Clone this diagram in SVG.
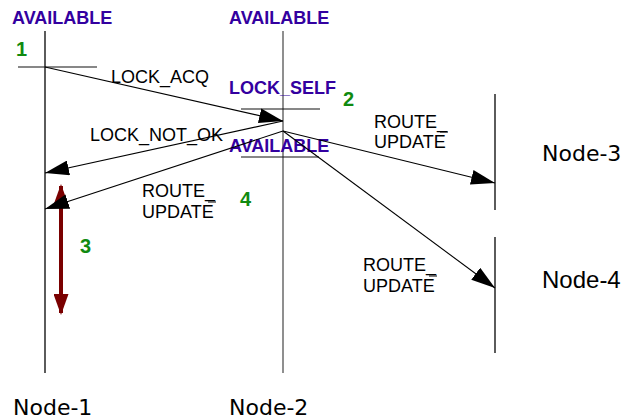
<svg xmlns="http://www.w3.org/2000/svg" width="629" height="419" viewBox="0 0 629 419">
<style>
.life{stroke:#333;stroke-width:1.6;fill:none}
.tick{stroke:#111;stroke-width:1.2;fill:none}
.msg{stroke:#000;stroke-width:1.1;fill:none}
.state{font-family:"Liberation Sans",Arial,sans-serif;font-weight:bold;font-size:18px;fill:#3300a0}
.num{font-family:"Liberation Sans",Arial,sans-serif;font-weight:bold;font-size:20px;fill:#108a10}
.lbl{font-family:"Liberation Sans",Arial,sans-serif;font-size:18px;fill:#000}
.node{font-family:"DejaVu Sans",Verdana,sans-serif;font-size:22px;fill:#000}
.node4{font-family:"Liberation Sans",Arial,sans-serif;font-size:24px;fill:#000}
</style>
<defs>
<marker id="ah" markerUnits="userSpaceOnUse" markerWidth="24" markerHeight="15" refX="24" refY="7.5" orient="auto">
<path d="M0,0 L24,7.5 L0,15 z" fill="#000"/>
</marker>
<marker id="rh" markerUnits="userSpaceOnUse" markerWidth="21" markerHeight="15" refX="19" refY="7.5" orient="auto-start-reverse">
<path d="M0,0 L21,7.5 L0,15 z" fill="#7a0000"/>
</marker>
</defs>
<rect width="629" height="419" fill="#fff"/>

<g id="node1">
<line class="life" x1="45" y1="31" x2="45" y2="373"/>
<text class="node" x="13" y="415">Node-1</text>
</g>
<g id="node2">
<line class="life" x1="283" y1="31" x2="283" y2="373" style="stroke-width:1.1"/>
<text class="node" x="229" y="415">Node-2</text>
</g>
<g id="node3">
<line class="life" x1="495" y1="94" x2="495" y2="210"/>
<text class="node" x="542" y="161">Node-3</text>
</g>
<g id="node4">
<line class="life" x1="495" y1="237" x2="495" y2="353"/>
<text class="node4" x="542" y="288">Node-4</text>
</g>

<g id="states">
<text class="state" x="12" y="24">AVAILABLE</text>
<text class="state" x="229" y="24">AVAILABLE</text>
<text class="state" x="229" y="94">LOCK_SELF</text>
<text class="state" x="229" y="152">AVAILABLE</text>
<line class="tick" x1="18" y1="67" x2="97" y2="67"/>
<line class="tick" x1="241" y1="109" x2="320" y2="109"/>
<line class="tick" x1="241" y1="157" x2="319" y2="157"/>
<text class="num" x="16" y="56">1</text>
<text class="num" x="343" y="106">2</text>
<text class="num" x="80" y="253">3</text>
<text class="num" x="240" y="206">4</text>
</g>

<g id="connectors">
<line x1="61" y1="186" x2="61" y2="313" stroke="#7a0000" stroke-width="4" marker-start="url(#rh)" marker-end="url(#rh)"/>
<line class="msg" x1="45" y1="67" x2="283" y2="121" marker-end="url(#ah)"/>
<line class="msg" x1="283" y1="121" x2="45" y2="173" marker-end="url(#ah)"/>
<line class="msg" x1="283" y1="131" x2="45" y2="209" marker-end="url(#ah)"/>
<line class="msg" x1="283" y1="131" x2="495" y2="183" marker-end="url(#ah)"/>
<line class="msg" x1="283" y1="131" x2="495" y2="288" marker-end="url(#ah)"/>
</g>

<g id="labels">
<text class="lbl" x="111" y="83">LOCK_ACQ</text>
<text class="lbl" x="90" y="141">LOCK_NOT_OK</text>
<text class="lbl" x="374" y="128">ROUTE_</text>
<text class="lbl" x="374" y="148">UPDATE</text>
<line x1="440" y1="132" x2="448" y2="132" stroke="#000" stroke-width="1"/>
<text class="lbl" x="142" y="197">ROUTE_</text>
<text class="lbl" x="142" y="218">UPDATE</text>
<line x1="208" y1="202" x2="216" y2="202" stroke="#000" stroke-width="1"/>
<text class="lbl" x="363" y="271">ROUTE_</text>
<text class="lbl" x="363" y="292">UPDATE</text>
<line x1="429" y1="276" x2="437" y2="276" stroke="#000" stroke-width="1"/>
</g>
</svg>
